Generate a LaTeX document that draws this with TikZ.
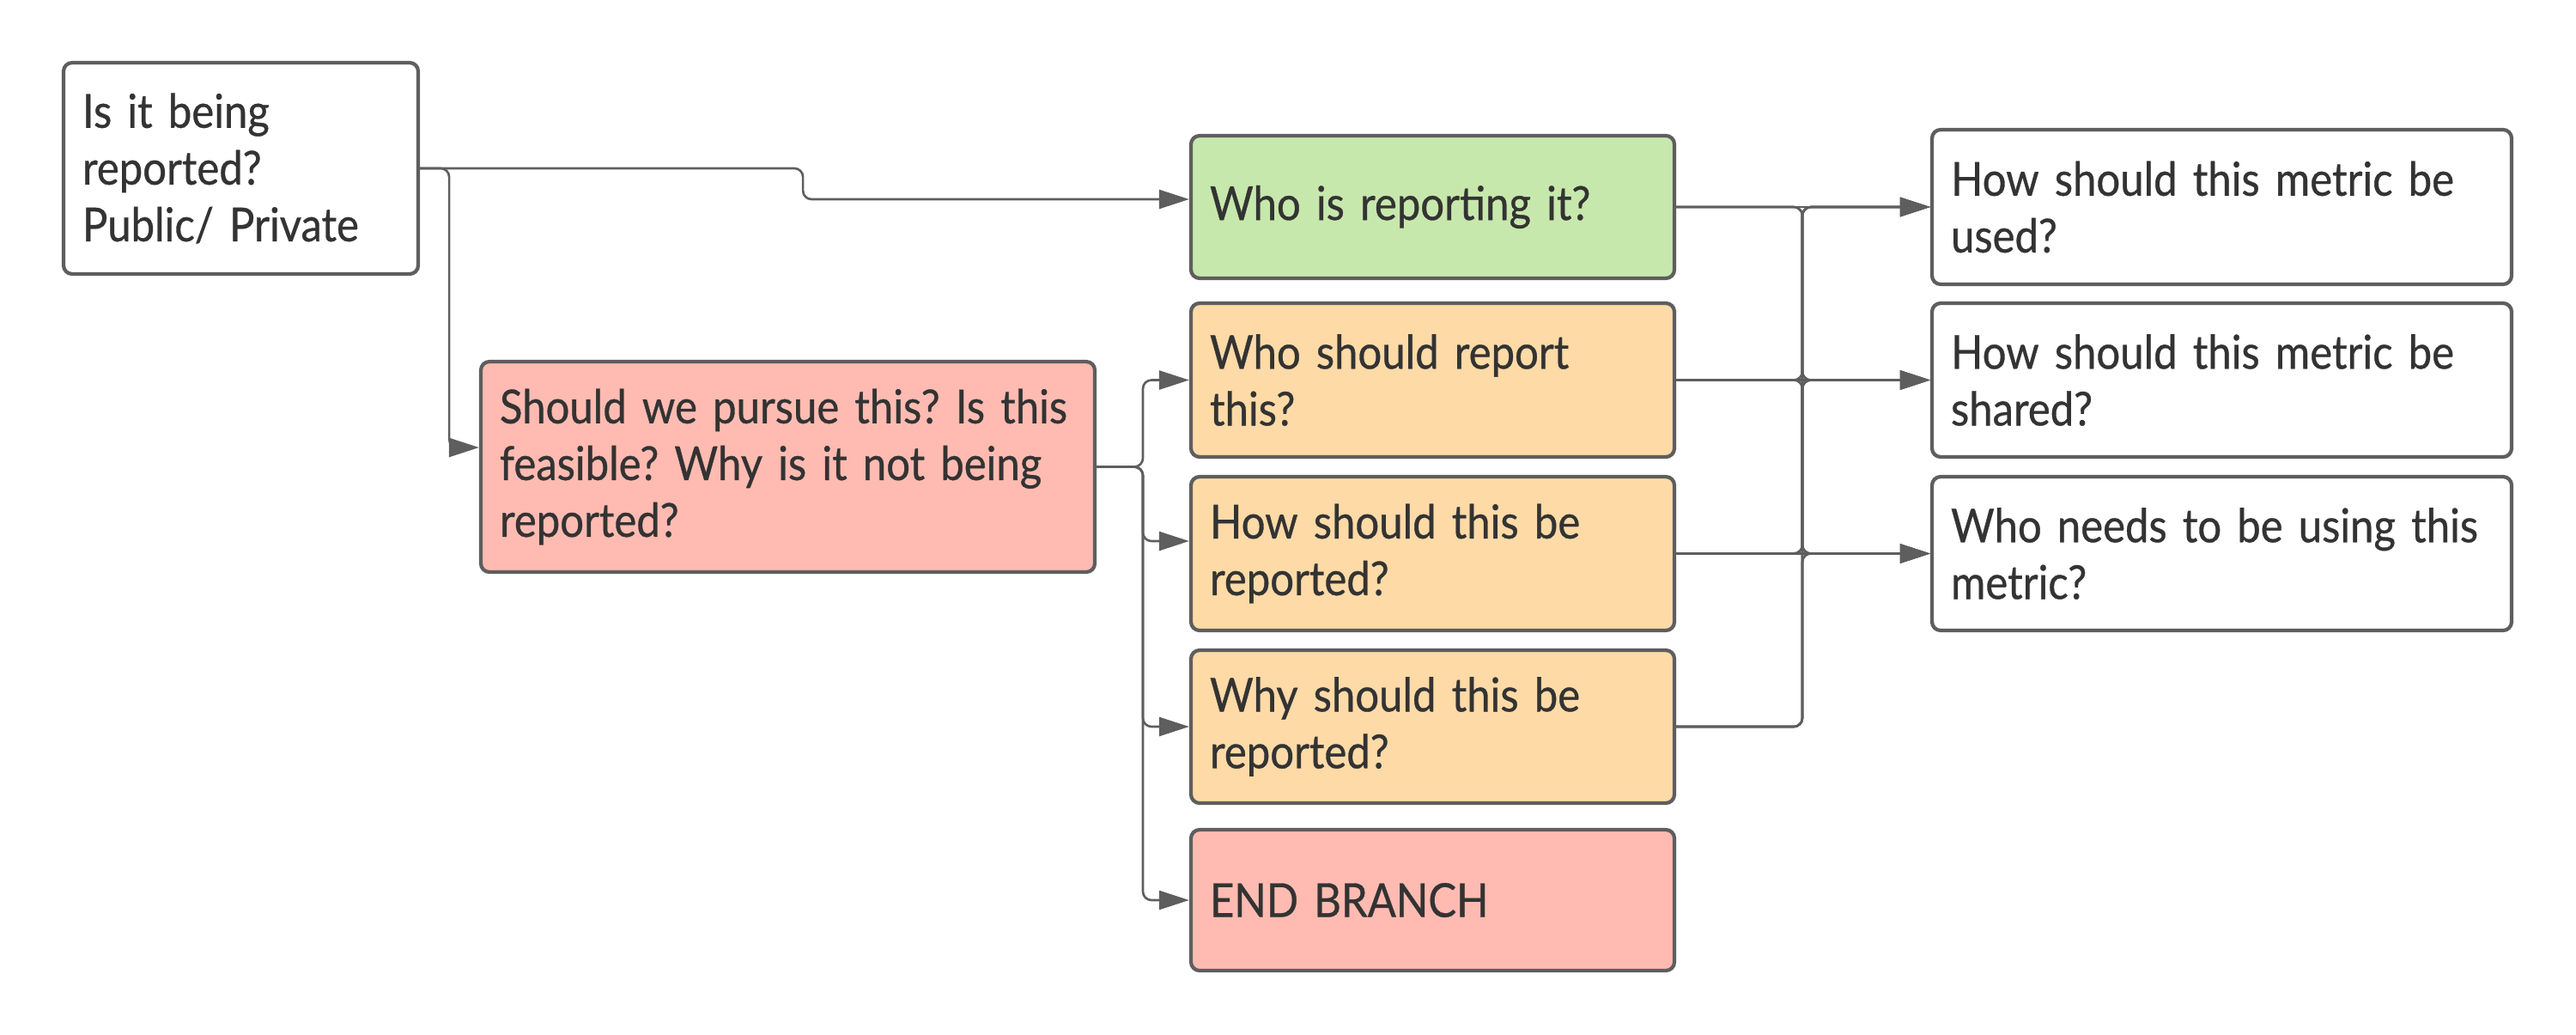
\documentclass[tikz,border=0pt]{standalone}
\usepackage{fontspec}
\setmainfont[FakeStretch=0.9,FakeBold=0.6]{Lato}
\usepackage{tikz}
\usetikzlibrary{arrows.meta}
\usetikzlibrary{positioning}
\definecolor{edgegray}{HTML}{5E5E5E}
\definecolor{inkgray}{HTML}{333333}
\definecolor{qgreen}{HTML}{C7E8AC}
\definecolor{qorange}{HTML}{FEDAA7}
\definecolor{qred}{HTML}{FFBBB1}
\tikzset{
  qnode/.style = {rectangle, align=left, draw=edgegray, line width=1.2pt,
    rounded corners=0.1cm, inner xsep=0.22cm, text=inkgray,
    font=\fontsize{15.5}{18.8}\selectfont},
  q_w/.style = {qnode, fill=white},% question, white
  q_g/.style = {qnode, fill=qgreen},% already reported
  q_o/.style = {qnode, fill=qorange},% should be reported
  q_r/.style = {qnode, fill=qred},% not reported, end
  link/.style = {edgegray, line width=0.75pt, rounded corners=0.1cm}
}
\frenchspacing

\begin{document}
\begin{tikzpicture}[->,>={Triangle[length=0.35cm,width=0.22cm]}]
\useasboundingbox (0,0) rectangle (30,-12.04);

\node [q_w, text width=3.69cm, minimum height=2.46cm] (start) at (2.805,-1.96)
  {Is it being\\reported?\\Public/ Private};
\node [q_r, text width=6.71cm, minimum height=2.45cm] (pursue) at (9.175,-5.435)
  {Should we pursue this? Is this\\feasible? Why is it not being\\reported?};

\node [q_g, text width=5.19cm, minimum height=1.66cm] (who) at (16.685,-2.41)
  {Who is reporting it?};
\node [q_o, text width=5.19cm, minimum height=1.79cm] (o1) at (16.685,-4.425)
  {Who should report\\this?};
\node [q_o, text width=5.19cm, minimum height=1.79cm] (o2) at (16.685,-6.445)
  {How should this be\\reported?};
\node [q_o, text width=5.19cm, minimum height=1.78cm] (o3) at (16.685,-8.46)
  {Why should this be\\reported?};
\node [q_r, text width=5.19cm, minimum height=1.64cm] (endb) at (16.685,-10.48)
  {END BRANCH};

\node [q_w, text width=6.31cm, minimum height=1.80cm] (used) at (25.875,-2.41)
  {How should this metric be\\used?};
\node [q_w, text width=6.31cm, minimum height=1.79cm] (shared) at (25.875,-4.425)
  {How should this metric be\\shared?};
\node [q_w, text width=6.31cm, minimum height=1.79cm] (users) at (25.875,-6.445)
  {Who needs to be using this\\metric?};

\coordinate (lbus) at (13.31,0);
\coordinate (rbus) at (20.99,0);

\draw [link] (start.east) -- ++(4.46,0) |- ([yshift=0.09cm]who.west);
\draw [link] (start.east) -- ++(0.34,0) |- ([yshift=0.225cm]pursue.west);

\foreach \t/\dy in {o1/0, o2/0.145, o3/0, endb/0}
  \draw [link] (pursue.east) -- (lbus |- pursue.east) |- ([yshift=\dy cm]\t.west);

% same row: straight, else via the bus
\foreach \s [count=\i] in {who,o1,o2,o3}
  \foreach \t [count=\j] in {used,shared,users}{
    \ifnum\i=\j
      \draw [link] (\s.east) -- (\t.west);
    \else
      \draw [link] (\s.east) -- (rbus |- \s.east) |- (\t.west);
    \fi
  }
\end{tikzpicture}
\end{document}
